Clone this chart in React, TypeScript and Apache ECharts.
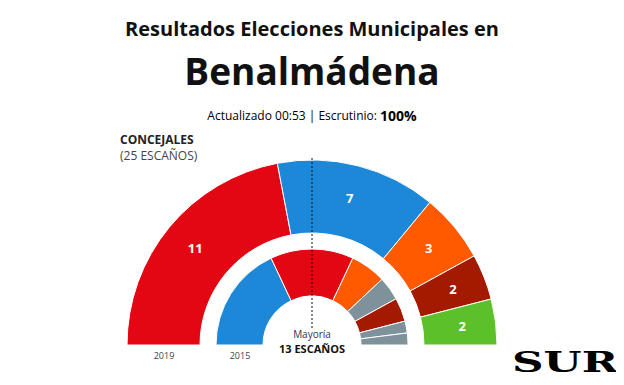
import React, { useEffect, useRef } from "react";
import * as echarts from "echarts";

const parties2019 = ["PSOE", "PP", "Cs", "Podemos-IU", "Vox"];
const seats2019 = [11, 7, 3, 2, 2];
const colors2019 = ["#e30613", "#1e88d8", "#ff5a00", "#a31a00", "#5cc02a"];

const parties2015 = ["PP", "PSOE", "Cs", "Otros A", "IU", "Otros B", "Otros C"];
const seats2015 = [9, 7, 3, 2, 2, 1, 1];
const colors2015 = ["#1e88d8", "#e30613", "#ff5a00", "#7f919a", "#a31a00", "#7f919a", "#7f919a"];

const FONT = "'Open Sans', 'Noto Sans', sans-serif";

export default function App() {
  const ref = useRef<HTMLDivElement>(null);
  useEffect(() => {
    if (!ref.current) return;
    const chart = echarts.init(ref.current, null, { renderer: "svg" });
    const cx = 312;
    const cy = 345;
    chart.setOption({
      animation: false,
      backgroundColor: "#ffffff",
      series: [
        {
          type: "pie",
          center: [cx, cy],
          radius: [112, 185],
          startAngle: 180,
          endAngle: 0,
          clockwise: true,
          silent: true,
          itemStyle: { borderColor: "#ffffff", borderWidth: 1 },
          label: {
            show: true,
            position: "inside",
            color: "#ffffff",
            fontFamily: FONT,
            fontWeight: "bold",
            fontSize: 13,
            formatter: "{c}",
          },
          labelLine: { show: false },
          data: parties2019.map((n, i) => ({
            name: n,
            value: seats2019[i],
            itemStyle: { color: colors2019[i] },
          })),
        },
        {
          type: "pie",
          center: [cx, cy],
          radius: [49, 96],
          startAngle: 180,
          endAngle: 0,
          clockwise: true,
          silent: true,
          itemStyle: { borderColor: "#ffffff", borderWidth: 1 },
          label: { show: false },
          labelLine: { show: false },
          data: parties2015.map((n, i) => ({
            name: n,
            value: seats2015[i],
            itemStyle: { color: colors2015[i] },
          })),
        },
      ],
      graphic: [
        {
          type: "text",
          left: "center",
          top: 18,
          style: {
            text: "Resultados Elecciones Municipales en",
            font: `bold 20px ${FONT}`,
            fill: "#111111",
          },
        },
        {
          type: "text",
          left: "center",
          top: 52,
          style: {
            text: "Benalmádena",
            font: `bold 37px ${FONT}`,
            fill: "#111111",
          },
        },
        {
          type: "text",
          left: "center",
          top: 108,
          style: {
            text: "{a|Actualizado 00:53 | Escrutinio: }{b|100%}",
            rich: {
              a: { fontFamily: FONT, fontSize: 12, color: "#444444" },
              b: { fontFamily: FONT, fontSize: 14, fontWeight: "bold", color: "#111111" },
            },
          },
        },
        {
          type: "text",
          left: 120,
          top: 133,
          style: {
            text: "CONCEJALES",
            font: `bold 12px ${FONT}`,
            fill: "#222222",
          },
        },
        {
          type: "text",
          left: 120,
          top: 149,
          style: {
            text: "(25 ESCAÑOS)",
            font: `12px ${FONT}`,
            fill: "#444444",
          },
        },
        {
          type: "line",
          z: 100,
          shape: { x1: cx, y1: 158, x2: cx, y2: 329 },
          style: { stroke: "#111111", lineWidth: 1, lineDash: [2, 2] },
        },
        {
          type: "text",
          x: cx,
          y: 334,
          z: 100,
          style: {
            text: "Mayoría",
            font: `10px ${FONT}`,
            fill: "#333344",
            textAlign: "center",
            textVerticalAlign: "middle",
          },
        },
        {
          type: "text",
          x: cx,
          y: 348,
          z: 100,
          style: {
            text: "13 ESCAÑOS",
            font: `bold 11px ${FONT}`,
            fill: "#111111",
            textAlign: "center",
            textVerticalAlign: "middle",
          },
        },
        {
          type: "text",
          x: 164,
          y: 355,
          style: {
            text: "2019",
            font: `9px ${FONT}`,
            fill: "#444444",
            textAlign: "center",
            textVerticalAlign: "middle",
          },
        },
        {
          type: "text",
          x: 240,
          y: 355,
          style: {
            text: "2015",
            font: `9px ${FONT}`,
            fill: "#444444",
            textAlign: "center",
            textVerticalAlign: "middle",
          },
        },
        {
          type: "text",
          x: 565,
          y: 363,
          scaleX: 1.62,
          style: {
            text: "SUR",
            font: `bold 27px 'DejaVu Serif', 'Liberation Serif', serif`,
            fill: "#000000",
            textAlign: "center",
            textVerticalAlign: "middle",
          },
        },
      ],
    });
    return () => chart.dispose();
  }, []);
  return <div ref={ref} style={{ width: 624, height: 385, margin: -8 }} />;
}
